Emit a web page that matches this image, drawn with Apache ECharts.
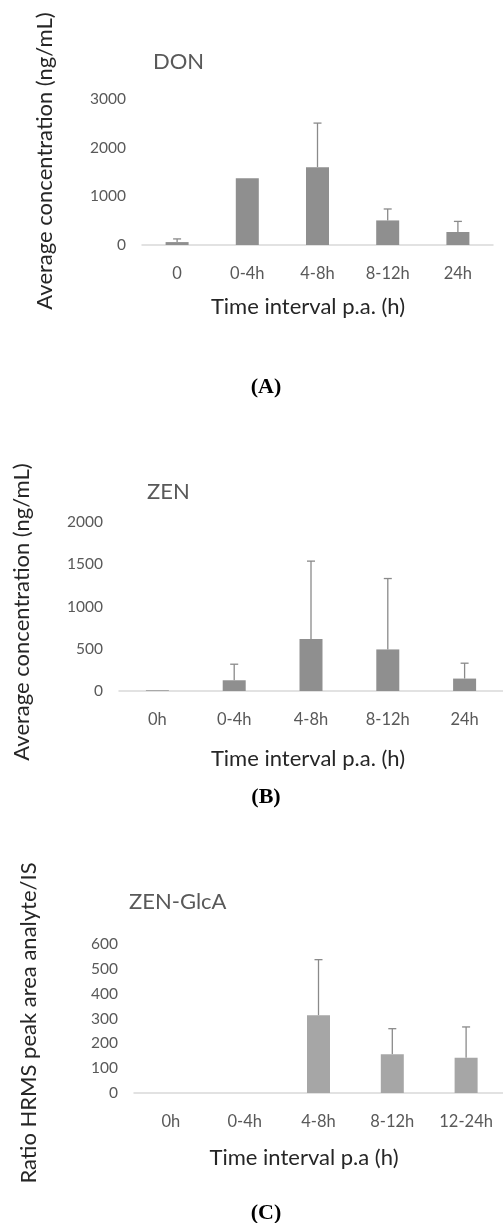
<!DOCTYPE html>
<html><head><meta charset="utf-8">
<script src="https://cdn.jsdelivr.net/npm/echarts@6/dist/echarts.min.js"></script>
<style>html,body{margin:0;padding:0;background:#fff}#c{width:503px;height:1223px}</style>
</head><body><div id="c"></div>
<script>
// Panel A: DON
const catsA = ['0', '0-4h', '4-8h', '8-12h', '24h'];
const meanA = [60, 1370, 1600, 505, 267];
const sdA = [65, null, 905, 235, 218];
const ticksA = [0, 3000, 1000];
// Panel B: ZEN
const catsB = ['0h', '0-4h', '4-8h', '8-12h', '24h'];
const meanB = [8, 127, 614, 492, 147];
const sdB = [null, 190, 923, 839, 182];
const ticksB = [0, 2000, 500];
// Panel C: ZEN-GlcA
const catsC = ['0h', '0-4h', '4-8h', '8-12h', '12-24h'];
const meanC = [0, 0, 313, 156, 142];
const sdC = [null, null, 224, 103, 124];
const ticksC = [0, 600, 100];

const FONT = 'Lato';
const chart = echarts.init(document.getElementById('c'));

function errData(mean, sd) {
  const out = [];
  mean.forEach((m, i) => { if (sd[i] != null) out.push([i, m, m + sd[i]]); });
  return out;
}
function xAx(cats, gi) {
  return {
    type: 'category', gridIndex: gi, data: cats,
    axisLine: { lineStyle: { color: '#d9d9d9', width: 1.5 } },
    axisTick: { show: false },
    axisLabel: { color: '#595959', fontFamily: FONT, fontSize: 16.5, margin: 20 }
  };
}
function yAx(t, gi) {
  return {
    type: 'value', gridIndex: gi, min: t[0], max: t[1], interval: t[2],
    axisLine: { show: false }, axisTick: { show: false }, splitLine: { show: false },
    axisLabel: { color: '#595959', fontFamily: FONT, fontSize: 15.5, margin: 16,
      formatter: function (v) { return String(v); } }
  };
}
function barS(mean, gi, color) {
  return { type: 'bar', xAxisIndex: gi, yAxisIndex: gi, data: mean, barWidth: 23,
    itemStyle: { color: color }, silent: true };
}
function errS(mean, sd, gi) {
  return {
    type: 'custom', xAxisIndex: gi, yAxisIndex: gi, silent: true,
    data: errData(mean, sd),
    renderItem: function (params, api) {
      const p1 = api.coord([api.value(0), api.value(1)]);
      const p2 = api.coord([api.value(0), api.value(2)]);
      const s = { stroke: '#8a8a8a', lineWidth: 1.3 };
      return { type: 'group', children: [
        { type: 'line', shape: { x1: p1[0], y1: p1[1], x2: p2[0], y2: p2[1] }, style: s },
        { type: 'line', shape: { x1: p2[0] - 4, y1: p2[1], x2: p2[0] + 4, y2: p2[1] }, style: s }
      ] };
    }
  };
}
function txt(x, y, text, size, color, opts) {
  return Object.assign({
    type: 'text', x: x, y: y, silent: true,
    style: { text: text, fontFamily: FONT, fontSize: size, fill: color, align: 'center', verticalAlign: 'middle' }
  }, opts || {});
}
function ttl(x, y, text) {
  return { type: 'text', x: x, y: y, silent: true,
    style: { text: text, fontFamily: FONT, fontSize: 22, fill: '#595959', align: 'left', verticalAlign: 'middle' } };
}
function panelLabel(x, y, text) {
  return { type: 'text', x: x, y: y, silent: true,
    style: { text: text, fontFamily: 'Liberation Serif', fontWeight: 'bold', fontSize: 22, fill: '#000', align: 'center', verticalAlign: 'middle' } };
}

chart.setOption({
  animation: false,
  grid: [
    { left: 142, right: 10, top: 99, bottom: 978 },
    { left: 119, right: -1, top: 522, bottom: 532 },
    { left: 134, right: -6, top: 944, bottom: 130 }
  ],
  xAxis: [xAx(catsA, 0), xAx(catsB, 1), xAx(catsC, 2)],
  yAxis: [yAx(ticksA, 0), yAx(ticksB, 1), yAx(ticksC, 2)],
  series: [
    barS(meanA, 0, '#8f8f8f'), errS(meanA, sdA, 0),
    barS(meanB, 1, '#8f8f8f'), errS(meanB, sdB, 1),
    barS(meanC, 2, '#a6a6a6'), errS(meanC, sdC, 2)
  ],
  graphic: [
    ttl(153, 62, 'DON'),
    txt(45, 161, 'Average concentration (ng/mL)', 22, '#262626', { rotation: Math.PI / 2 }),
    txt(308, 307, 'Time interval p.a. (h)', 22, '#262626'),
    panelLabel(266, 387, '(A)'),

    ttl(147, 492, 'ZEN'),
    txt(22, 612, 'Average concentration (ng/mL)', 22, '#262626', { rotation: Math.PI / 2 }),
    txt(308, 759, 'Time interval p.a. (h)', 22, '#262626'),
    panelLabel(266, 797, '(B)'),

    ttl(129, 902, 'ZEN-GlcA'),
    txt(29, 1023, 'Ratio HRMS peak area analyte/IS', 22, '#262626', { rotation: Math.PI / 2 }),
    txt(304, 1158, 'Time interval p.a (h)', 22, '#262626'),
    panelLabel(266, 1213, '(C)')
  ]
});
</script></body></html>
